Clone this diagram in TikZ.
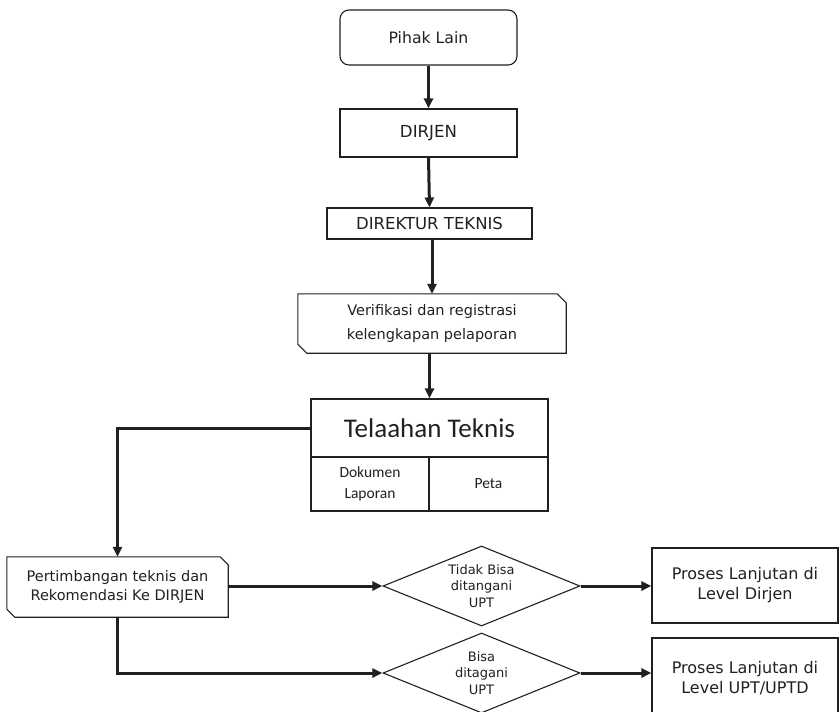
\documentclass[tikz,border=0pt]{standalone}
\usepackage{fontspec}
\setmainfont{DejaVu Sans}
\newfontfamily\calfont{Carlito}
\usetikzlibrary{shapes.geometric,arrows.meta}
\definecolor{ink}{HTML}{231F20}
\begin{document}
\begin{tikzpicture}[x=1pt,y=-1pt,
  every node/.style={text=ink},
  box/.style={draw=ink,line width=1.1pt,inner sep=0pt,align=center,font=\fontsize{16}{20}\selectfont},
  plain/.style={inner sep=0pt,align=center,font=\fontsize{14.5}{24}\selectfont},
  cell/.style={draw=ink,line width=1.1pt,inner sep=0pt,align=center},
  dec/.style={diamond,draw=ink,line width=1.1pt,inner sep=0pt,aspect=2.46,
    minimum width=197pt,minimum height=80pt,align=center,font=\fontsize{13}{16.5}\selectfont},
  flow/.style={draw=ink,line width=3pt,-{Triangle[length=10pt,width=9pt]}},
  outline/.style={draw=ink,line width=1.1pt}]
\useasboundingbox (0,0) rectangle (839,712);
\clip (0,0) rectangle (839,712);

% main column
\node[box,font=\fontsize{15.7}{20}\selectfont,rounded corners=9pt,minimum width=177pt,minimum height=55pt] (pihak) at (428.5,37.5) {Pihak Lain};
\node[box,font=\fontsize{16.6}{20}\selectfont,minimum width=177pt,minimum height=48pt] (dirjen) at (428.5,133) {DIRJEN};
\node[box,font=\fontsize{16.5}{20}\selectfont,minimum width=205pt,minimum height=31pt] (dirtek) at (429.5,223.5) {DIREKTUR TEKNIS};
\node[plain,minimum width=268pt,minimum height=59pt] (verif) at (432,323.5) {Verifikasi dan registrasi\\kelengkapan pelaporan};
\draw[outline] (verif.north west) -- ([xshift=-9pt]verif.north east)
  -- ([yshift=-9pt]verif.north east) -- (verif.south east)
  -- ([xshift=9pt]verif.south west) -- ([yshift=9pt]verif.south west) -- cycle;

% technical review table
\node[cell,minimum width=237pt,minimum height=58pt,font=\calfont\fontsize{27}{30}\selectfont] (telaah) at (429.5,428) {Telaahan Teknis};
\node[cell,minimum width=118pt,minimum height=54pt,font=\calfont\fontsize{15.5}{21}\selectfont] (dokumen) at (370,484) {Dokumen\\Laporan};
\node[cell,minimum width=119pt,minimum height=54pt,font=\calfont\fontsize{15.5}{21}\selectfont] (peta) at (488.5,484) {Peta};

% recommendation
\node[plain,minimum width=221pt,minimum height=60pt,font=\fontsize{14.5}{19}\selectfont] (pertim) at (117.5,587) {Pertimbangan teknis dan\\Rekomendasi Ke DIRJEN};
\draw[outline] (pertim.north west) -- ([xshift=-8pt]pertim.north east)
  -- ([yshift=-8pt]pertim.north east) -- (pertim.south east)
  -- ([xshift=8pt]pertim.south west) -- ([yshift=8pt]pertim.south west) -- cycle;

% decisions
\node[dec] (tidak) at (481.5,586) {Tidak Bisa\\ditangani\\UPT};
\node[dec] (bisa) at (481.5,673) {Bisa\\ditagani\\UPT};

% outcomes
\node[box,minimum width=186pt,minimum height=75pt] (lvdirjen) at (745,585.5) {Proses Lanjutan di\\Level Dirjen};
\node[box,minimum width=186pt,minimum height=80pt] (lvupt) at (745,678) {Proses Lanjutan di\\Level UPT/UPTD};

% connectors
\draw[flow] (pihak.south) -- (dirjen.north);
\draw[flow] (dirjen.south) -- (dirtek.north);
\draw[flow] (dirtek.south -| verif.north) -- (verif.north);
\draw[flow] (verif.south -| telaah.north) -- (telaah.north);
\draw[flow] (telaah.west) -| (pertim.north);
\draw[flow] (pertim.east |- tidak.west) -- (tidak.west);
\draw[flow] (pertim.south) |- (bisa.west);
\draw[flow] (tidak.east) -- (lvdirjen.west |- tidak.east);
\draw[flow] (bisa.east) -- (lvupt.west |- bisa.east);
\end{tikzpicture}
\end{document}
